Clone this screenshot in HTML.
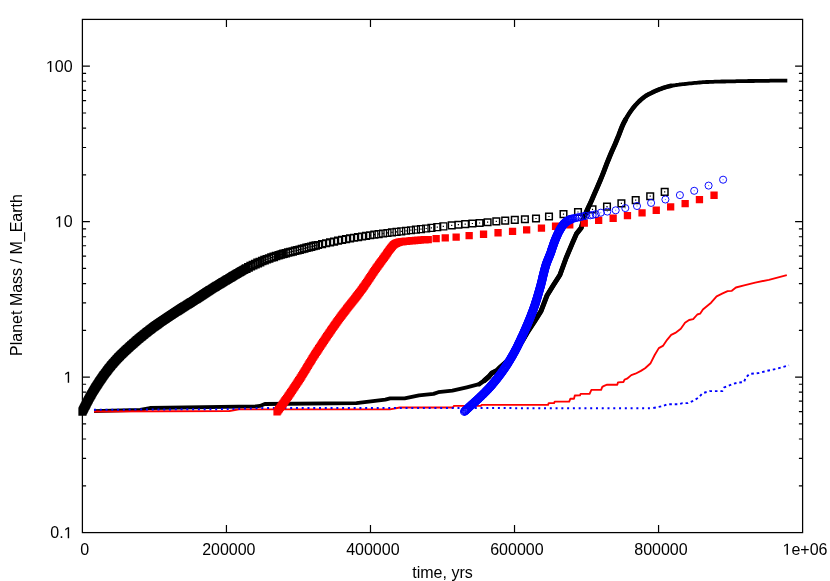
<!DOCTYPE html>
<html><head><meta charset="utf-8"><title>plot</title>
<style>
html,body{margin:0;padding:0;background:#fff;}
body{width:830px;height:581px;overflow:hidden;font-family:"Liberation Sans",sans-serif;}
svg{display:block;will-change:transform;}
</style></head><body>
<svg width="830" height="581" viewBox="0 0 830 581">
<rect width="830" height="581" fill="#fff"/>
<path d="M94.0 411.2L140.2 409.9L149.9 408.0L255.9 406.3L260.0 405.9L264.8 404.0L356.4 403.2L385.3 399.6L390.1 398.3L404.6 398.3L419.0 395.3L433.5 393.9L438.3 392.2L452.4 390.6L466.8 387.3L479.2 384.2L481.5 382.5L484.4 380.5L489.0 376.5L491.6 373.3L497.0 370.5L499.9 367.5L505.0 363.0L510.0 358.0L515.4 352.0L520.0 345.0L527.0 333.0L534.9 320.8L541.0 311.1L547.0 295.5L553.0 285.8L559.9 275.0L566.1 258.0L572.2 243.6L576.4 233.9L581.2 227.9L584.2 217.0L586.7 211.0L588.4 207.4L590.1 203.7L591.8 200.0L593.4 196.2L595.1 192.3L596.8 188.4L598.5 184.5L600.2 180.5L601.9 176.4L603.6 172.1L605.2 167.8L606.9 163.4L608.6 159.2L610.3 155.0L612.0 151.1L613.7 147.3L615.4 143.4L617.0 139.5L618.7 135.4L620.4 130.9L622.1 126.5L623.8 122.8L625.5 119.6L627.2 116.7L628.8 114.1L630.5 111.6L632.2 109.2L633.9 107.0L635.6 105.0L637.3 103.2L639.0 101.5L640.6 100.0L642.3 98.6L644.0 97.2L645.7 96.0L647.4 94.9L649.1 94.0L650.8 93.2L652.4 92.4L654.1 91.6L655.8 90.8L657.5 90.1L659.2 89.4L660.9 88.8L662.6 88.2L664.2 87.6L665.9 87.1L667.6 86.6L669.3 86.2L671.0 85.8L672.7 85.5L674.4 85.3L676.0 85.0L677.7 84.8L679.4 84.5L681.1 84.3L682.8 84.1L684.5 84.0L686.2 83.8L687.8 83.6L689.5 83.4L691.2 83.3L692.9 83.1L694.6 82.9L696.3 82.8L698.0 82.6L699.6 82.5L701.3 82.4L703.0 82.2L704.7 82.1L706.4 82.0L708.1 82.0L709.8 81.9L711.4 81.8L713.1 81.8L714.8 81.7L716.5 81.7L718.2 81.6L719.9 81.6L721.6 81.5L723.2 81.5L724.9 81.5L726.6 81.4L728.3 81.4L730.0 81.4L731.7 81.3L733.4 81.3L735.0 81.3L736.7 81.2L738.4 81.2L740.1 81.2L741.8 81.2L743.5 81.1L745.2 81.1L746.8 81.1L748.5 81.0L750.2 81.0L751.9 81.0L753.6 81.0L755.3 80.9L757.0 80.9L758.6 80.9L760.3 80.9L762.0 80.8L763.7 80.8L765.4 80.8L767.1 80.8L768.8 80.8L770.4 80.7L772.1 80.7L773.8 80.7L775.5 80.7L777.2 80.7L778.9 80.7L780.6 80.6L782.2 80.6L783.9 80.6L785.6 80.6L787.3 80.6" fill="none" stroke="#000" stroke-width="3.8" stroke-linejoin="round"/>
<path d="M484.4 380.5L489.0 376.5L491.6 373.3L497.0 370.5L499.9 367.5L505.0 363.0L510.0 358.0L515.4 352.0L520.0 345.0L527.0 333.0L534.9 320.8L541.0 311.1L547.0 295.5L553.0 285.8L559.9 275.0L566.1 258.0L572.2 243.6L576.4 233.9L581.2 227.9L584.2 217.0L586.7 211.0L588.4 207.4L590.1 203.7L591.8 200.0L593.4 196.2L595.1 192.3L596.8 188.4L598.5 184.5L600.2 180.5L601.9 176.4L603.6 172.1L605.2 167.8L606.9 163.4L608.6 159.2L610.3 155.0L612.0 151.1L613.7 147.3L615.4 143.4L617.0 139.5L618.7 135.4L620.4 130.9L622.1 126.5L623.8 122.8L625.5 119.6" fill="none" stroke="#000" stroke-width="5" stroke-linejoin="round" stroke-linecap="round"/>
<path d="M479.2 384.2L481.5 382.5L484.4 380.5L489.0 376.5L491.6 373.3L497.0 370.5L499.9 367.5L505.0 363.0L510.0 358.0L515.4 352.0L520.0 345.0L527.0 333.0L534.9 320.8L541.0 311.1L547.0 295.5L553.0 285.8L559.9 275.0L566.1 258.0L572.2 243.6L576.4 233.9L581.2 227.9L584.2 217.0L586.7 211.0L588.4 207.4L590.1 203.7L591.8 200.0L593.4 196.2L595.1 192.3L596.8 188.4L598.5 184.5L600.2 180.5L601.9 176.4L603.6 172.1L605.2 167.8L606.9 163.4L608.6 159.2L610.3 155.0L612.0 151.1L613.7 147.3L615.4 143.4L617.0 139.5L618.7 135.4L620.4 130.9L622.1 126.5L623.8 122.8L625.5 119.6L627.2 116.7L628.8 114.1L630.5 111.6L632.2 109.2L633.9 107.0L635.6 105.0L637.3 103.2L639.0 101.5L640.6 100.0L642.3 98.6L644.0 97.2L645.7 96.0L647.4 94.9L649.1 94.0L650.8 93.2L652.4 92.4L654.1 91.6L655.8 90.8L657.5 90.1L659.2 89.4L660.9 88.8L662.6 88.2L664.2 87.6L665.9 87.1L667.6 86.6L669.3 86.2L671.0 85.8" fill="none" stroke="#000" stroke-width="4.5" stroke-linejoin="round" stroke-linecap="round"/>
<path d="M94.0 411.5L229.4 411.0L239.0 409.3L390.0 409.3L399.8 407.5L453.0 407.5L454.0 405.8L481.0 405.8L481.5 404.9L548.1 404.9L548.7 403.1L554.1 403.1L554.7 401.6L569.2 401.6L570.4 398.7L574.0 398.7L574.8 395.5L580.0 395.3L580.6 393.9L589.6 393.9L591.4 389.9L601.1 389.9L602.3 386.9L604.1 385.9L607.1 384.7L617.3 384.7L618.0 382.3L623.4 382.0L624.6 379.6L627.0 378.7L631.3 375.1L635.4 373.7L640.9 370.9L645.1 368.2L650.6 363.2L654.7 355.0L658.8 348.1L662.9 345.9L667.1 339.8L671.2 334.9L675.3 332.9L680.8 328.8L685.0 322.8L689.1 320.0L693.2 319.2L697.3 314.5L700.1 313.7L702.9 309.5L711.1 302.7L716.6 296.3L722.1 293.6L727.6 291.1L731.8 290.8L735.9 287.5L744.1 285.3L755.2 282.6L768.9 279.8L786.8 275.1" fill="none" stroke="#f00" stroke-width="1.85" stroke-linejoin="round"/>
<path d="M94.0 409.8L224.6 409.1L270.0 407.9L592.8 408.2L651.8 408.3" fill="none" stroke="#00f" stroke-width="2" stroke-dasharray="2 3.77"/>
<path d="M651.8 408.3L662.7 406.1L667.2 404.3L678.9 404.3L682.5 403.1L688.0 403.1L692.5 401.1L698.8 397.5L702.4 393.3L709.6 391.1L722.3 391.1L724.1 387.5L733.1 383.9L738.6 382.5L744.0 382.1L745.8 377.6L749.4 374.0L758.4 373.1L767.5 370.7L776.5 368.9L789.0 365.3" fill="none" stroke="#00f" stroke-width="1.9" stroke-dasharray="2.6 2.9" stroke-dashoffset="-1.5"/>
<path d="M79.0 408.2h6.9v6.9h-6.9zM79.3 407.3h6.9v6.9h-6.9zM79.7 406.5h6.9v6.9h-6.9zM80.1 405.7h6.9v6.9h-6.9zM80.5 404.9h6.9v6.9h-6.9zM80.9 404.1h6.9v6.9h-6.9zM81.3 403.3h6.9v6.9h-6.9zM81.8 402.5h6.9v6.9h-6.9zM82.2 401.7h6.9v6.9h-6.9zM82.6 400.9h6.9v6.9h-6.9zM83.0 400.1h6.9v6.9h-6.9zM83.4 399.3h6.9v6.9h-6.9zM83.8 398.5h6.9v6.9h-6.9zM84.2 397.7h6.9v6.9h-6.9zM84.6 396.9h6.9v6.9h-6.9zM85.1 396.1h6.9v6.9h-6.9zM85.5 395.3h6.9v6.9h-6.9zM85.9 394.5h6.9v6.9h-6.9zM86.3 393.7h6.9v6.9h-6.9zM86.8 392.9h6.9v6.9h-6.9zM87.2 392.2h6.9v6.9h-6.9zM87.7 391.4h6.9v6.9h-6.9zM88.1 390.6h6.9v6.9h-6.9zM88.6 389.8h6.9v6.9h-6.9zM89.0 389.0h6.9v6.9h-6.9zM89.5 388.3h6.9v6.9h-6.9zM89.9 387.5h6.9v6.9h-6.9zM90.4 386.7h6.9v6.9h-6.9zM90.9 385.9h6.9v6.9h-6.9zM91.4 385.2h6.9v6.9h-6.9zM91.8 384.4h6.9v6.9h-6.9zM92.3 383.7h6.9v6.9h-6.9zM92.8 382.9h6.9v6.9h-6.9zM93.3 382.1h6.9v6.9h-6.9zM93.8 381.4h6.9v6.9h-6.9zM94.3 380.6h6.9v6.9h-6.9zM94.8 379.9h6.9v6.9h-6.9zM95.2 379.1h6.9v6.9h-6.9zM95.7 378.4h6.9v6.9h-6.9zM96.2 377.6h6.9v6.9h-6.9zM96.7 376.9h6.9v6.9h-6.9zM97.3 376.1h6.9v6.9h-6.9zM97.8 375.4h6.9v6.9h-6.9zM98.3 374.7h6.9v6.9h-6.9zM98.8 373.9h6.9v6.9h-6.9zM99.3 373.2h6.9v6.9h-6.9zM99.8 372.4h6.9v6.9h-6.9zM100.3 371.7h6.9v6.9h-6.9zM100.9 371.0h6.9v6.9h-6.9zM101.4 370.3h6.9v6.9h-6.9zM101.9 369.5h6.9v6.9h-6.9zM102.5 368.8h6.9v6.9h-6.9zM103.0 368.1h6.9v6.9h-6.9zM103.6 367.4h6.9v6.9h-6.9zM104.1 366.7h6.9v6.9h-6.9zM104.7 365.9h6.9v6.9h-6.9zM105.2 365.2h6.9v6.9h-6.9zM105.8 364.5h6.9v6.9h-6.9zM106.3 363.8h6.9v6.9h-6.9zM106.9 363.1h6.9v6.9h-6.9zM107.5 362.4h6.9v6.9h-6.9zM108.0 361.7h6.9v6.9h-6.9zM108.6 361.0h6.9v6.9h-6.9zM109.2 360.4h6.9v6.9h-6.9zM109.8 359.7h6.9v6.9h-6.9zM110.4 359.0h6.9v6.9h-6.9zM111.0 358.3h6.9v6.9h-6.9zM111.6 357.7h6.9v6.9h-6.9zM112.2 357.0h6.9v6.9h-6.9zM112.8 356.3h6.9v6.9h-6.9zM113.4 355.7h6.9v6.9h-6.9zM114.0 355.0h6.9v6.9h-6.9zM114.6 354.4h6.9v6.9h-6.9zM115.2 353.7h6.9v6.9h-6.9zM115.9 353.1h6.9v6.9h-6.9zM116.5 352.4h6.9v6.9h-6.9zM117.1 351.8h6.9v6.9h-6.9zM117.8 351.1h6.9v6.9h-6.9zM118.4 350.5h6.9v6.9h-6.9zM119.1 349.9h6.9v6.9h-6.9zM119.7 349.3h6.9v6.9h-6.9zM120.4 348.6h6.9v6.9h-6.9zM121.0 348.0h6.9v6.9h-6.9zM121.7 347.4h6.9v6.9h-6.9zM122.3 346.8h6.9v6.9h-6.9zM123.0 346.2h6.9v6.9h-6.9zM123.6 345.6h6.9v6.9h-6.9zM124.3 345.0h6.9v6.9h-6.9zM125.0 344.4h6.9v6.9h-6.9zM125.6 343.8h6.9v6.9h-6.9zM126.3 343.1h6.9v6.9h-6.9zM127.0 342.5h6.9v6.9h-6.9zM127.6 341.9h6.9v6.9h-6.9zM128.3 341.4h6.9v6.9h-6.9zM129.0 340.8h6.9v6.9h-6.9zM129.7 340.2h6.9v6.9h-6.9zM130.3 339.6h6.9v6.9h-6.9zM131.0 339.0h6.9v6.9h-6.9zM131.7 338.4h6.9v6.9h-6.9zM132.4 337.8h6.9v6.9h-6.9zM133.0 337.2h6.9v6.9h-6.9zM133.7 336.6h6.9v6.9h-6.9zM134.4 336.0h6.9v6.9h-6.9zM135.1 335.4h6.9v6.9h-6.9zM135.8 334.9h6.9v6.9h-6.9zM136.5 334.3h6.9v6.9h-6.9zM137.2 333.7h6.9v6.9h-6.9zM137.9 333.1h6.9v6.9h-6.9zM138.6 332.6h6.9v6.9h-6.9zM139.3 332.0h6.9v6.9h-6.9zM140.0 331.4h6.9v6.9h-6.9zM140.7 330.9h6.9v6.9h-6.9zM141.4 330.3h6.9v6.9h-6.9zM142.1 329.8h6.9v6.9h-6.9zM142.8 329.2h6.9v6.9h-6.9zM143.5 328.6h6.9v6.9h-6.9zM144.2 328.1h6.9v6.9h-6.9zM144.9 327.5h6.9v6.9h-6.9zM145.6 327.0h6.9v6.9h-6.9zM146.3 326.4h6.9v6.9h-6.9zM147.1 325.9h6.9v6.9h-6.9zM147.8 325.4h6.9v6.9h-6.9zM148.5 324.8h6.9v6.9h-6.9zM149.2 324.3h6.9v6.9h-6.9zM149.9 323.7h6.9v6.9h-6.9zM150.7 323.2h6.9v6.9h-6.9zM151.4 322.7h6.9v6.9h-6.9zM152.1 322.1h6.9v6.9h-6.9zM152.8 321.6h6.9v6.9h-6.9zM153.6 321.1h6.9v6.9h-6.9zM154.3 320.6h6.9v6.9h-6.9zM155.0 320.1h6.9v6.9h-6.9zM155.8 319.5h6.9v6.9h-6.9zM156.5 319.0h6.9v6.9h-6.9zM157.2 318.5h6.9v6.9h-6.9zM158.0 318.0h6.9v6.9h-6.9zM158.7 317.5h6.9v6.9h-6.9zM159.5 317.0h6.9v6.9h-6.9zM160.2 316.5h6.9v6.9h-6.9zM161.0 316.0h6.9v6.9h-6.9zM161.7 315.5h6.9v6.9h-6.9zM162.5 315.0h6.9v6.9h-6.9zM163.2 314.5h6.9v6.9h-6.9zM163.9 314.0h6.9v6.9h-6.9zM164.7 313.5h6.9v6.9h-6.9zM165.4 313.0h6.9v6.9h-6.9zM166.2 312.5h6.9v6.9h-6.9zM166.9 312.0h6.9v6.9h-6.9zM167.7 311.5h6.9v6.9h-6.9zM168.5 311.0h6.9v6.9h-6.9zM169.2 310.5h6.9v6.9h-6.9zM170.0 310.0h6.9v6.9h-6.9zM170.7 309.5h6.9v6.9h-6.9zM171.5 309.0h6.9v6.9h-6.9zM172.2 308.5h6.9v6.9h-6.9zM173.0 308.0h6.9v6.9h-6.9zM173.7 307.6h6.9v6.9h-6.9zM174.5 307.1h6.9v6.9h-6.9zM175.3 306.6h6.9v6.9h-6.9zM176.0 306.1h6.9v6.9h-6.9zM176.8 305.6h6.9v6.9h-6.9zM177.5 305.2h6.9v6.9h-6.9zM178.3 304.7h6.9v6.9h-6.9zM179.1 304.2h6.9v6.9h-6.9zM179.8 303.7h6.9v6.9h-6.9zM180.6 303.2h6.9v6.9h-6.9zM181.4 302.8h6.9v6.9h-6.9zM182.1 302.3h6.9v6.9h-6.9zM182.9 301.8h6.9v6.9h-6.9zM183.6 301.3h6.9v6.9h-6.9zM184.4 300.9h6.9v6.9h-6.9zM185.2 300.4h6.9v6.9h-6.9zM185.9 299.9h6.9v6.9h-6.9zM186.7 299.4h6.9v6.9h-6.9zM187.5 298.9h6.9v6.9h-6.9zM188.2 298.5h6.9v6.9h-6.9zM189.0 298.0h6.9v6.9h-6.9zM189.7 297.5h6.9v6.9h-6.9zM190.5 297.0h6.9v6.9h-6.9zM191.3 296.5h6.9v6.9h-6.9zM192.0 296.0h6.9v6.9h-6.9zM192.8 295.6h6.9v6.9h-6.9zM193.5 295.1h6.9v6.9h-6.9zM194.3 294.6h6.9v6.9h-6.9zM195.0 294.1h6.9v6.9h-6.9zM195.8 293.6h6.9v6.9h-6.9zM196.5 293.1h6.9v6.9h-6.9zM197.3 292.6h6.9v6.9h-6.9zM198.1 292.1h6.9v6.9h-6.9zM198.8 291.6h6.9v6.9h-6.9zM199.6 291.1h6.9v6.9h-6.9zM200.3 290.7h6.9v6.9h-6.9zM201.1 290.2h6.9v6.9h-6.9zM201.8 289.7h6.9v6.9h-6.9zM202.6 289.2h6.9v6.9h-6.9zM203.3 288.7h6.9v6.9h-6.9zM204.1 288.2h6.9v6.9h-6.9zM204.9 287.7h6.9v6.9h-6.9zM205.6 287.2h6.9v6.9h-6.9zM206.4 286.7h6.9v6.9h-6.9zM207.1 286.3h6.9v6.9h-6.9zM207.9 285.8h6.9v6.9h-6.9zM208.6 285.3h6.9v6.9h-6.9zM209.4 284.8h6.9v6.9h-6.9zM210.2 284.3h6.9v6.9h-6.9zM210.9 283.9h6.9v6.9h-6.9zM211.7 283.4h6.9v6.9h-6.9zM212.5 282.9h6.9v6.9h-6.9zM213.2 282.4h6.9v6.9h-6.9zM214.0 282.0h6.9v6.9h-6.9zM214.8 281.5h6.9v6.9h-6.9zM215.5 281.0h6.9v6.9h-6.9zM216.3 280.6h6.9v6.9h-6.9zM217.1 280.1h6.9v6.9h-6.9zM217.8 279.6h6.9v6.9h-6.9zM218.6 279.2h6.9v6.9h-6.9zM219.4 278.7h6.9v6.9h-6.9zM220.2 278.3h6.9v6.9h-6.9zM220.9 277.8h6.9v6.9h-6.9zM221.7 277.3h6.9v6.9h-6.9zM222.5 276.9h6.9v6.9h-6.9zM223.2 276.4h6.9v6.9h-6.9zM224.0 275.9h6.9v6.9h-6.9zM224.8 275.5h6.9v6.9h-6.9zM225.6 275.0h6.9v6.9h-6.9zM226.3 274.5h6.9v6.9h-6.9zM227.1 274.1h6.9v6.9h-6.9zM227.9 273.6h6.9v6.9h-6.9zM228.6 273.1h6.9v6.9h-6.9zM229.4 272.7h6.9v6.9h-6.9zM230.2 272.2h6.9v6.9h-6.9zM231.0 271.8h6.9v6.9h-6.9zM231.7 271.3h6.9v6.9h-6.9zM232.5 270.9h6.9v6.9h-6.9zM233.3 270.4h6.9v6.9h-6.9zM234.1 269.9h6.9v6.9h-6.9zM234.8 269.5h6.9v6.9h-6.9zM235.6 269.0h6.9v6.9h-6.9zM236.4 268.6h6.9v6.9h-6.9zM237.2 268.2h6.9v6.9h-6.9zM238.0 267.7h6.9v6.9h-6.9zM238.7 267.3h6.9v6.9h-6.9zM239.5 266.8h6.9v6.9h-6.9zM240.3 266.4h6.9v6.9h-6.9zM241.1 266.0h6.9v6.9h-6.9zM241.9 265.5h6.9v6.9h-6.9zM274.9 251.9h6.9v6.9h-6.9zM275.8 251.6h6.9v6.9h-6.9zM276.6 251.3h6.9v6.9h-6.9zM277.5 251.1h6.9v6.9h-6.9zM278.3 250.8h6.9v6.9h-6.9zM279.2 250.6h6.9v6.9h-6.9zM314.6 241.5h6.9v6.9h-6.9zM318.6 240.6h6.9v6.9h-6.9zM322.6 239.8h6.9v6.9h-6.9zM326.6 238.9h6.9v6.9h-6.9zM330.6 238.1h6.9v6.9h-6.9zM334.6 237.2h6.9v6.9h-6.9zM338.6 236.4h6.9v6.9h-6.9zM342.6 235.6h6.9v6.9h-6.9zM346.6 234.9h6.9v6.9h-6.9zM350.6 234.3h6.9v6.9h-6.9zM354.6 233.6h6.9v6.9h-6.9zM358.6 233.0h6.9v6.9h-6.9zM362.6 232.4h6.9v6.9h-6.9zM366.7 231.8h6.9v6.9h-6.9zM370.9 231.2h6.9v6.9h-6.9zM375.2 230.6h6.9v6.9h-6.9zM379.6 230.0h6.9v6.9h-6.9zM384.0 229.5h6.9v6.9h-6.9zM388.5 228.9h6.9v6.9h-6.9zM393.1 228.4h6.9v6.9h-6.9zM397.8 227.9h6.9v6.9h-6.9zM402.6 227.3h6.9v6.9h-6.9zM407.5 226.8h6.9v6.9h-6.9zM412.5 226.2h6.9v6.9h-6.9zM417.5 225.6h6.9v6.9h-6.9zM422.7 225.0h6.9v6.9h-6.9zM428.0 224.4h6.9v6.9h-6.9zM433.8 223.7h6.9v6.9h-6.9zM439.9 222.9h6.9v6.9h-6.9z" fill="none" stroke="#000" stroke-width="1.25"/>
<path d="M280.1 250.3h6.9v6.9h-6.9zM282.4 249.7h6.9v6.9h-6.9zM284.7 249.1h6.9v6.9h-6.9zM287.0 248.5h6.9v6.9h-6.9zM289.3 248.0h6.9v6.9h-6.9zM291.6 247.4h6.9v6.9h-6.9zM293.9 246.8h6.9v6.9h-6.9zM296.2 246.2h6.9v6.9h-6.9zM298.5 245.6h6.9v6.9h-6.9zM300.8 245.0h6.9v6.9h-6.9zM303.1 244.4h6.9v6.9h-6.9zM305.4 243.8h6.9v6.9h-6.9zM307.7 243.2h6.9v6.9h-6.9zM310.0 242.6h6.9v6.9h-6.9zM312.3 242.1h6.9v6.9h-6.9z" fill="none" stroke="#000" stroke-width="1.6"/>
<path d="M258.8 257.6h6.9v6.9h-6.9zM261.1 256.7h6.9v6.9h-6.9zM263.4 255.8h6.9v6.9h-6.9zM265.7 255.0h6.9v6.9h-6.9zM268.0 254.1h6.9v6.9h-6.9zM270.3 253.4h6.9v6.9h-6.9zM272.6 252.6h6.9v6.9h-6.9z" fill="none" stroke="#000" stroke-width="1.7"/>
<path d="M242.7 265.1h6.9v6.9h-6.9zM245.0 263.9h6.9v6.9h-6.9zM247.3 262.7h6.9v6.9h-6.9zM249.6 261.6h6.9v6.9h-6.9zM251.9 260.6h6.9v6.9h-6.9zM254.2 259.5h6.9v6.9h-6.9zM256.5 258.6h6.9v6.9h-6.9z" fill="none" stroke="#000" stroke-width="1.95"/>
<path d="M448.4 222.1h6.6v6.6h-6.6zM455.1 221.4h6.6v6.6h-6.6zM461.9 220.8h6.6v6.6h-6.6zM469.1 220.2h6.6v6.6h-6.6zM476.3 219.7h6.6v6.6h-6.6zM484.3 218.9h6.6v6.6h-6.6zM493.0 218.1h6.6v6.6h-6.6zM501.9 217.3h6.6v6.6h-6.6zM511.5 216.6h6.6v6.6h-6.6zM521.6 216.0h6.6v6.6h-6.6zM532.7 215.2h6.6v6.6h-6.6zM545.7 213.2h6.6v6.6h-6.6zM560.2 210.8h6.6v6.6h-6.6zM574.7 208.7h6.6v6.6h-6.6zM589.2 206.1h6.6v6.6h-6.6zM603.7 203.3h6.6v6.6h-6.6zM618.1 200.1h6.6v6.6h-6.6zM632.4 196.8h6.6v6.6h-6.6zM646.9 192.9h6.6v6.6h-6.6zM661.4 188.6h6.6v6.6h-6.6z" fill="none" stroke="#000" stroke-width="1.5"/>
<path d="M81.8 411.0h1.2v1.2h-1.2zM82.2 410.2h1.2v1.2h-1.2zM82.6 409.4h1.2v1.2h-1.2zM83.0 408.6h1.2v1.2h-1.2zM83.4 407.8h1.2v1.2h-1.2zM83.8 407.0h1.2v1.2h-1.2zM84.2 406.2h1.2v1.2h-1.2zM84.6 405.4h1.2v1.2h-1.2zM85.0 404.6h1.2v1.2h-1.2zM85.4 403.7h1.2v1.2h-1.2zM85.8 402.9h1.2v1.2h-1.2zM86.2 402.1h1.2v1.2h-1.2zM86.7 401.3h1.2v1.2h-1.2zM87.1 400.5h1.2v1.2h-1.2zM87.5 399.8h1.2v1.2h-1.2zM87.9 399.0h1.2v1.2h-1.2zM88.3 398.2h1.2v1.2h-1.2zM88.8 397.4h1.2v1.2h-1.2zM89.2 396.6h1.2v1.2h-1.2zM89.6 395.8h1.2v1.2h-1.2zM90.1 395.0h1.2v1.2h-1.2zM90.5 394.2h1.2v1.2h-1.2zM91.0 393.4h1.2v1.2h-1.2zM91.4 392.7h1.2v1.2h-1.2zM91.9 391.9h1.2v1.2h-1.2zM92.3 391.1h1.2v1.2h-1.2zM92.8 390.3h1.2v1.2h-1.2zM93.3 389.6h1.2v1.2h-1.2zM93.7 388.8h1.2v1.2h-1.2zM94.2 388.0h1.2v1.2h-1.2zM94.7 387.3h1.2v1.2h-1.2zM95.2 386.5h1.2v1.2h-1.2zM95.6 385.8h1.2v1.2h-1.2zM96.1 385.0h1.2v1.2h-1.2zM96.6 384.2h1.2v1.2h-1.2zM97.1 383.5h1.2v1.2h-1.2zM97.6 382.7h1.2v1.2h-1.2zM98.1 382.0h1.2v1.2h-1.2zM98.6 381.2h1.2v1.2h-1.2zM99.1 380.5h1.2v1.2h-1.2zM99.6 379.7h1.2v1.2h-1.2zM100.1 379.0h1.2v1.2h-1.2zM100.6 378.2h1.2v1.2h-1.2zM101.1 377.5h1.2v1.2h-1.2zM101.6 376.8h1.2v1.2h-1.2zM102.2 376.0h1.2v1.2h-1.2zM102.7 375.3h1.2v1.2h-1.2zM103.2 374.6h1.2v1.2h-1.2zM103.7 373.8h1.2v1.2h-1.2zM104.3 373.1h1.2v1.2h-1.2zM104.8 372.4h1.2v1.2h-1.2zM105.3 371.7h1.2v1.2h-1.2zM105.9 370.9h1.2v1.2h-1.2zM106.4 370.2h1.2v1.2h-1.2zM107.0 369.5h1.2v1.2h-1.2zM107.5 368.8h1.2v1.2h-1.2zM108.1 368.1h1.2v1.2h-1.2zM108.6 367.4h1.2v1.2h-1.2zM109.2 366.7h1.2v1.2h-1.2zM109.7 366.0h1.2v1.2h-1.2zM110.3 365.3h1.2v1.2h-1.2zM110.9 364.6h1.2v1.2h-1.2zM111.5 363.9h1.2v1.2h-1.2zM112.0 363.2h1.2v1.2h-1.2zM112.6 362.5h1.2v1.2h-1.2zM113.2 361.9h1.2v1.2h-1.2zM113.8 361.2h1.2v1.2h-1.2zM114.4 360.5h1.2v1.2h-1.2zM115.0 359.8h1.2v1.2h-1.2zM115.6 359.2h1.2v1.2h-1.2zM116.2 358.5h1.2v1.2h-1.2zM116.8 357.9h1.2v1.2h-1.2zM117.5 357.2h1.2v1.2h-1.2zM118.1 356.6h1.2v1.2h-1.2zM118.7 355.9h1.2v1.2h-1.2zM119.3 355.3h1.2v1.2h-1.2zM120.0 354.6h1.2v1.2h-1.2zM120.6 354.0h1.2v1.2h-1.2zM121.3 353.4h1.2v1.2h-1.2zM121.9 352.7h1.2v1.2h-1.2zM122.6 352.1h1.2v1.2h-1.2zM123.2 351.5h1.2v1.2h-1.2zM123.9 350.9h1.2v1.2h-1.2zM124.5 350.3h1.2v1.2h-1.2zM125.2 349.6h1.2v1.2h-1.2zM125.8 349.0h1.2v1.2h-1.2zM126.5 348.4h1.2v1.2h-1.2zM127.1 347.8h1.2v1.2h-1.2zM127.8 347.2h1.2v1.2h-1.2zM128.5 346.6h1.2v1.2h-1.2zM129.2 346.0h1.2v1.2h-1.2zM129.8 345.4h1.2v1.2h-1.2zM130.5 344.8h1.2v1.2h-1.2zM131.2 344.2h1.2v1.2h-1.2zM131.8 343.6h1.2v1.2h-1.2zM132.5 343.0h1.2v1.2h-1.2zM133.2 342.4h1.2v1.2h-1.2zM133.9 341.8h1.2v1.2h-1.2zM134.5 341.2h1.2v1.2h-1.2zM135.2 340.6h1.2v1.2h-1.2zM135.9 340.0h1.2v1.2h-1.2zM136.6 339.5h1.2v1.2h-1.2zM137.3 338.9h1.2v1.2h-1.2zM138.0 338.3h1.2v1.2h-1.2zM138.6 337.7h1.2v1.2h-1.2zM139.3 337.1h1.2v1.2h-1.2zM140.0 336.6h1.2v1.2h-1.2zM140.7 336.0h1.2v1.2h-1.2zM141.4 335.4h1.2v1.2h-1.2zM142.1 334.9h1.2v1.2h-1.2zM142.8 334.3h1.2v1.2h-1.2zM143.5 333.7h1.2v1.2h-1.2zM144.2 333.2h1.2v1.2h-1.2zM144.9 332.6h1.2v1.2h-1.2zM145.6 332.1h1.2v1.2h-1.2zM146.3 331.5h1.2v1.2h-1.2zM147.0 330.9h1.2v1.2h-1.2zM147.8 330.4h1.2v1.2h-1.2zM148.5 329.8h1.2v1.2h-1.2zM149.2 329.3h1.2v1.2h-1.2zM149.9 328.8h1.2v1.2h-1.2zM150.6 328.2h1.2v1.2h-1.2zM151.3 327.7h1.2v1.2h-1.2zM152.1 327.1h1.2v1.2h-1.2zM152.8 326.6h1.2v1.2h-1.2zM153.5 326.1h1.2v1.2h-1.2zM154.2 325.5h1.2v1.2h-1.2zM155.0 325.0h1.2v1.2h-1.2zM155.7 324.5h1.2v1.2h-1.2zM156.4 323.9h1.2v1.2h-1.2zM157.2 323.4h1.2v1.2h-1.2zM157.9 322.9h1.2v1.2h-1.2zM158.6 322.4h1.2v1.2h-1.2zM159.4 321.9h1.2v1.2h-1.2zM160.1 321.4h1.2v1.2h-1.2zM160.8 320.8h1.2v1.2h-1.2zM161.6 320.3h1.2v1.2h-1.2zM162.3 319.8h1.2v1.2h-1.2zM163.1 319.3h1.2v1.2h-1.2zM163.8 318.8h1.2v1.2h-1.2zM164.6 318.3h1.2v1.2h-1.2zM165.3 317.8h1.2v1.2h-1.2zM166.1 317.3h1.2v1.2h-1.2zM166.8 316.8h1.2v1.2h-1.2zM167.5 316.3h1.2v1.2h-1.2zM168.3 315.8h1.2v1.2h-1.2zM169.0 315.3h1.2v1.2h-1.2zM169.8 314.8h1.2v1.2h-1.2zM170.5 314.3h1.2v1.2h-1.2zM171.3 313.8h1.2v1.2h-1.2zM172.1 313.3h1.2v1.2h-1.2zM172.8 312.8h1.2v1.2h-1.2zM173.6 312.3h1.2v1.2h-1.2zM174.3 311.9h1.2v1.2h-1.2zM175.1 311.4h1.2v1.2h-1.2zM175.8 310.9h1.2v1.2h-1.2zM176.6 310.4h1.2v1.2h-1.2zM177.3 309.9h1.2v1.2h-1.2zM178.1 309.4h1.2v1.2h-1.2zM178.9 309.0h1.2v1.2h-1.2zM179.6 308.5h1.2v1.2h-1.2zM180.4 308.0h1.2v1.2h-1.2zM181.2 307.5h1.2v1.2h-1.2zM181.9 307.0h1.2v1.2h-1.2zM182.7 306.6h1.2v1.2h-1.2zM183.4 306.1h1.2v1.2h-1.2zM184.2 305.6h1.2v1.2h-1.2zM185.0 305.1h1.2v1.2h-1.2zM185.7 304.7h1.2v1.2h-1.2zM186.5 304.2h1.2v1.2h-1.2zM187.3 303.7h1.2v1.2h-1.2zM188.0 303.2h1.2v1.2h-1.2zM188.8 302.8h1.2v1.2h-1.2zM189.5 302.3h1.2v1.2h-1.2zM190.3 301.8h1.2v1.2h-1.2zM191.1 301.3h1.2v1.2h-1.2zM191.8 300.8h1.2v1.2h-1.2zM192.6 300.4h1.2v1.2h-1.2zM193.3 299.9h1.2v1.2h-1.2zM194.1 299.4h1.2v1.2h-1.2zM194.9 298.9h1.2v1.2h-1.2zM195.6 298.4h1.2v1.2h-1.2zM196.4 297.9h1.2v1.2h-1.2zM197.1 297.4h1.2v1.2h-1.2zM197.9 296.9h1.2v1.2h-1.2zM198.6 296.4h1.2v1.2h-1.2zM199.4 296.0h1.2v1.2h-1.2zM200.2 295.5h1.2v1.2h-1.2zM200.9 295.0h1.2v1.2h-1.2zM201.7 294.5h1.2v1.2h-1.2zM202.4 294.0h1.2v1.2h-1.2zM203.2 293.5h1.2v1.2h-1.2zM203.9 293.0h1.2v1.2h-1.2zM204.7 292.5h1.2v1.2h-1.2zM205.4 292.0h1.2v1.2h-1.2zM206.2 291.5h1.2v1.2h-1.2zM206.9 291.1h1.2v1.2h-1.2zM207.7 290.6h1.2v1.2h-1.2zM208.5 290.1h1.2v1.2h-1.2zM209.2 289.6h1.2v1.2h-1.2zM210.0 289.1h1.2v1.2h-1.2zM210.7 288.6h1.2v1.2h-1.2zM211.5 288.1h1.2v1.2h-1.2zM212.3 287.7h1.2v1.2h-1.2zM213.0 287.2h1.2v1.2h-1.2zM213.8 286.7h1.2v1.2h-1.2zM214.5 286.2h1.2v1.2h-1.2zM215.3 285.8h1.2v1.2h-1.2zM216.1 285.3h1.2v1.2h-1.2zM216.8 284.8h1.2v1.2h-1.2zM217.6 284.3h1.2v1.2h-1.2zM218.4 283.9h1.2v1.2h-1.2zM219.1 283.4h1.2v1.2h-1.2zM219.9 283.0h1.2v1.2h-1.2zM220.7 282.5h1.2v1.2h-1.2zM221.5 282.0h1.2v1.2h-1.2zM222.2 281.6h1.2v1.2h-1.2zM223.0 281.1h1.2v1.2h-1.2zM223.8 280.6h1.2v1.2h-1.2zM224.5 280.2h1.2v1.2h-1.2zM225.3 279.7h1.2v1.2h-1.2zM226.1 279.2h1.2v1.2h-1.2zM226.9 278.8h1.2v1.2h-1.2zM227.6 278.3h1.2v1.2h-1.2zM228.4 277.9h1.2v1.2h-1.2zM229.2 277.4h1.2v1.2h-1.2zM229.9 276.9h1.2v1.2h-1.2zM230.7 276.5h1.2v1.2h-1.2zM231.5 276.0h1.2v1.2h-1.2zM232.3 275.5h1.2v1.2h-1.2zM233.0 275.1h1.2v1.2h-1.2zM233.8 274.6h1.2v1.2h-1.2zM234.6 274.2h1.2v1.2h-1.2zM235.4 273.7h1.2v1.2h-1.2zM236.1 273.2h1.2v1.2h-1.2zM236.9 272.8h1.2v1.2h-1.2zM237.7 272.3h1.2v1.2h-1.2zM238.5 271.9h1.2v1.2h-1.2zM239.3 271.4h1.2v1.2h-1.2zM240.0 271.0h1.2v1.2h-1.2zM240.8 270.6h1.2v1.2h-1.2zM241.6 270.1h1.2v1.2h-1.2zM242.4 269.7h1.2v1.2h-1.2zM243.2 269.2h1.2v1.2h-1.2zM244.0 268.8h1.2v1.2h-1.2zM244.8 268.4h1.2v1.2h-1.2zM245.5 268.0h1.2v1.2h-1.2zM247.8 266.8h1.2v1.2h-1.2zM250.1 265.6h1.2v1.2h-1.2zM252.4 264.5h1.2v1.2h-1.2zM254.7 263.4h1.2v1.2h-1.2zM257.0 262.4h1.2v1.2h-1.2zM259.3 261.4h1.2v1.2h-1.2zM261.6 260.5h1.2v1.2h-1.2zM263.9 259.6h1.2v1.2h-1.2zM266.2 258.7h1.2v1.2h-1.2zM268.5 257.8h1.2v1.2h-1.2zM270.8 257.0h1.2v1.2h-1.2zM273.1 256.2h1.2v1.2h-1.2zM275.4 255.4h1.2v1.2h-1.2zM277.7 254.7h1.2v1.2h-1.2zM278.6 254.4h1.2v1.2h-1.2zM279.5 254.2h1.2v1.2h-1.2zM280.3 253.9h1.2v1.2h-1.2zM281.2 253.7h1.2v1.2h-1.2zM282.1 253.4h1.2v1.2h-1.2zM282.9 253.2h1.2v1.2h-1.2zM285.2 252.6h1.2v1.2h-1.2zM287.5 252.0h1.2v1.2h-1.2zM289.8 251.4h1.2v1.2h-1.2zM292.1 250.8h1.2v1.2h-1.2zM294.4 250.3h1.2v1.2h-1.2zM296.7 249.7h1.2v1.2h-1.2zM299.0 249.1h1.2v1.2h-1.2zM301.3 248.5h1.2v1.2h-1.2zM303.6 247.9h1.2v1.2h-1.2zM305.9 247.2h1.2v1.2h-1.2zM308.2 246.6h1.2v1.2h-1.2zM310.5 246.0h1.2v1.2h-1.2zM312.8 245.5h1.2v1.2h-1.2zM315.1 244.9h1.2v1.2h-1.2zM317.4 244.4h1.2v1.2h-1.2zM321.4 243.5h1.2v1.2h-1.2zM325.4 242.6h1.2v1.2h-1.2zM329.4 241.8h1.2v1.2h-1.2zM333.4 240.9h1.2v1.2h-1.2zM337.4 240.1h1.2v1.2h-1.2zM341.4 239.3h1.2v1.2h-1.2zM345.4 238.5h1.2v1.2h-1.2zM349.4 237.8h1.2v1.2h-1.2zM353.4 237.1h1.2v1.2h-1.2zM357.4 236.5h1.2v1.2h-1.2zM361.4 235.9h1.2v1.2h-1.2zM365.5 235.3h1.2v1.2h-1.2zM369.6 234.7h1.2v1.2h-1.2zM373.8 234.0h1.2v1.2h-1.2zM378.0 233.4h1.2v1.2h-1.2zM382.4 232.9h1.2v1.2h-1.2zM386.8 232.3h1.2v1.2h-1.2zM391.4 231.8h1.2v1.2h-1.2zM396.0 231.3h1.2v1.2h-1.2zM400.7 230.8h1.2v1.2h-1.2zM405.5 230.2h1.2v1.2h-1.2zM410.3 229.6h1.2v1.2h-1.2zM415.3 229.1h1.2v1.2h-1.2zM420.4 228.5h1.2v1.2h-1.2zM425.6 227.9h1.2v1.2h-1.2zM430.8 227.2h1.2v1.2h-1.2zM436.7 226.5h1.2v1.2h-1.2zM442.7 225.8h1.2v1.2h-1.2zM451.1 224.8h1.2v1.2h-1.2zM457.8 224.1h1.2v1.2h-1.2zM464.6 223.5h1.2v1.2h-1.2zM471.8 222.9h1.2v1.2h-1.2zM479.0 222.4h1.2v1.2h-1.2zM487.0 221.6h1.2v1.2h-1.2zM495.7 220.8h1.2v1.2h-1.2zM504.6 220.0h1.2v1.2h-1.2zM514.2 219.3h1.2v1.2h-1.2zM524.3 218.7h1.2v1.2h-1.2zM535.4 217.9h1.2v1.2h-1.2zM548.4 215.9h1.2v1.2h-1.2zM562.9 213.5h1.2v1.2h-1.2zM577.4 211.4h1.2v1.2h-1.2zM591.9 208.8h1.2v1.2h-1.2zM606.4 206.0h1.2v1.2h-1.2zM620.8 202.8h1.2v1.2h-1.2zM635.1 199.5h1.2v1.2h-1.2zM649.6 195.6h1.2v1.2h-1.2zM664.1 191.3h1.2v1.2h-1.2z" fill="#000"/>
<path d="M273.4 408.2h7.3v7.3h-7.3zM274.2 407.1h7.3v7.3h-7.3zM275.0 406.0h7.3v7.3h-7.3zM275.8 404.9h7.3v7.3h-7.3zM276.6 403.8h7.3v7.3h-7.3zM277.4 402.7h7.3v7.3h-7.3zM278.2 401.6h7.3v7.3h-7.3zM279.0 400.5h7.3v7.3h-7.3zM279.8 399.4h7.3v7.3h-7.3zM280.6 398.3h7.3v7.3h-7.3zM281.4 397.1h7.3v7.3h-7.3zM282.2 396.0h7.3v7.3h-7.3zM283.0 394.9h7.3v7.3h-7.3zM283.8 393.7h7.3v7.3h-7.3zM284.6 392.6h7.3v7.3h-7.3zM285.4 391.4h7.3v7.3h-7.3zM286.2 390.2h7.3v7.3h-7.3zM287.0 389.1h7.3v7.3h-7.3zM287.8 387.9h7.3v7.3h-7.3zM288.6 386.7h7.3v7.3h-7.3zM289.4 385.5h7.3v7.3h-7.3zM290.2 384.3h7.3v7.3h-7.3zM291.0 383.2h7.3v7.3h-7.3zM291.8 382.0h7.3v7.3h-7.3zM292.6 380.7h7.3v7.3h-7.3zM293.4 379.5h7.3v7.3h-7.3zM294.2 378.3h7.3v7.3h-7.3zM295.0 377.1h7.3v7.3h-7.3zM295.8 375.9h7.3v7.3h-7.3zM296.6 374.6h7.3v7.3h-7.3zM297.4 373.4h7.3v7.3h-7.3zM298.2 372.1h7.3v7.3h-7.3zM299.0 370.8h7.3v7.3h-7.3zM299.8 369.5h7.3v7.3h-7.3zM300.6 368.2h7.3v7.3h-7.3zM301.4 366.9h7.3v7.3h-7.3zM302.2 365.6h7.3v7.3h-7.3zM303.0 364.3h7.3v7.3h-7.3zM303.8 362.9h7.3v7.3h-7.3zM304.6 361.6h7.3v7.3h-7.3zM305.4 360.3h7.3v7.3h-7.3zM306.2 359.0h7.3v7.3h-7.3zM307.0 357.7h7.3v7.3h-7.3zM307.8 356.4h7.3v7.3h-7.3zM308.6 355.1h7.3v7.3h-7.3zM309.4 353.8h7.3v7.3h-7.3zM310.2 352.5h7.3v7.3h-7.3zM311.0 351.3h7.3v7.3h-7.3zM311.8 350.1h7.3v7.3h-7.3zM312.6 348.8h7.3v7.3h-7.3zM313.4 347.6h7.3v7.3h-7.3zM314.2 346.4h7.3v7.3h-7.3zM315.0 345.1h7.3v7.3h-7.3zM315.8 343.9h7.3v7.3h-7.3zM316.6 342.7h7.3v7.3h-7.3zM317.4 341.5h7.3v7.3h-7.3zM318.2 340.3h7.3v7.3h-7.3zM319.0 339.1h7.3v7.3h-7.3zM319.8 337.9h7.3v7.3h-7.3zM320.6 336.7h7.3v7.3h-7.3zM321.4 335.5h7.3v7.3h-7.3zM322.2 334.3h7.3v7.3h-7.3zM323.0 333.1h7.3v7.3h-7.3zM323.8 331.9h7.3v7.3h-7.3zM324.6 330.7h7.3v7.3h-7.3zM325.4 329.6h7.3v7.3h-7.3zM326.2 328.4h7.3v7.3h-7.3zM327.0 327.2h7.3v7.3h-7.3zM327.8 326.1h7.3v7.3h-7.3zM328.6 324.9h7.3v7.3h-7.3zM329.4 323.8h7.3v7.3h-7.3zM330.2 322.6h7.3v7.3h-7.3zM331.0 321.5h7.3v7.3h-7.3zM331.8 320.4h7.3v7.3h-7.3zM332.6 319.2h7.3v7.3h-7.3zM333.4 318.1h7.3v7.3h-7.3zM334.2 317.0h7.3v7.3h-7.3zM335.0 315.9h7.3v7.3h-7.3zM335.8 314.8h7.3v7.3h-7.3zM336.6 313.7h7.3v7.3h-7.3zM337.4 312.6h7.3v7.3h-7.3zM338.2 311.6h7.3v7.3h-7.3zM339.0 310.5h7.3v7.3h-7.3zM339.8 309.5h7.3v7.3h-7.3zM340.6 308.4h7.3v7.3h-7.3zM341.4 307.4h7.3v7.3h-7.3zM342.2 306.4h7.3v7.3h-7.3zM343.0 305.3h7.3v7.3h-7.3zM343.8 304.3h7.3v7.3h-7.3zM344.6 303.3h7.3v7.3h-7.3zM345.4 302.3h7.3v7.3h-7.3zM346.2 301.3h7.3v7.3h-7.3zM347.0 300.3h7.3v7.3h-7.3zM347.8 299.3h7.3v7.3h-7.3zM348.6 298.2h7.3v7.3h-7.3zM349.4 297.2h7.3v7.3h-7.3zM350.2 296.2h7.3v7.3h-7.3zM351.0 295.2h7.3v7.3h-7.3zM351.8 294.2h7.3v7.3h-7.3zM352.6 293.1h7.3v7.3h-7.3zM353.4 292.1h7.3v7.3h-7.3zM354.2 291.1h7.3v7.3h-7.3zM355.0 290.0h7.3v7.3h-7.3zM355.8 288.9h7.3v7.3h-7.3zM356.6 287.9h7.3v7.3h-7.3zM357.4 286.8h7.3v7.3h-7.3zM358.2 285.7h7.3v7.3h-7.3zM359.0 284.6h7.3v7.3h-7.3zM359.8 283.5h7.3v7.3h-7.3zM360.6 282.4h7.3v7.3h-7.3zM361.4 281.2h7.3v7.3h-7.3zM362.2 280.0h7.3v7.3h-7.3zM363.0 278.9h7.3v7.3h-7.3zM363.8 277.7h7.3v7.3h-7.3zM364.6 276.5h7.3v7.3h-7.3zM365.4 275.3h7.3v7.3h-7.3zM366.2 274.1h7.3v7.3h-7.3zM367.0 272.9h7.3v7.3h-7.3zM367.8 271.7h7.3v7.3h-7.3zM368.6 270.5h7.3v7.3h-7.3zM369.4 269.3h7.3v7.3h-7.3zM370.2 268.1h7.3v7.3h-7.3zM371.0 266.9h7.3v7.3h-7.3zM371.8 265.8h7.3v7.3h-7.3zM372.6 264.6h7.3v7.3h-7.3zM373.4 263.5h7.3v7.3h-7.3zM374.2 262.4h7.3v7.3h-7.3zM375.0 261.3h7.3v7.3h-7.3zM375.8 260.2h7.3v7.3h-7.3zM376.6 259.1h7.3v7.3h-7.3zM377.4 258.0h7.3v7.3h-7.3zM378.2 256.9h7.3v7.3h-7.3zM379.0 255.8h7.3v7.3h-7.3zM379.8 254.7h7.3v7.3h-7.3zM380.6 253.6h7.3v7.3h-7.3zM381.4 252.5h7.3v7.3h-7.3zM382.2 251.4h7.3v7.3h-7.3zM383.0 250.2h7.3v7.3h-7.3zM383.8 249.1h7.3v7.3h-7.3zM384.6 247.9h7.3v7.3h-7.3zM385.4 246.8h7.3v7.3h-7.3zM386.2 245.7h7.3v7.3h-7.3zM387.0 244.7h7.3v7.3h-7.3zM387.8 243.7h7.3v7.3h-7.3zM388.6 242.7h7.3v7.3h-7.3zM389.4 241.8h7.3v7.3h-7.3zM390.2 241.0h7.3v7.3h-7.3zM391.0 240.4h7.3v7.3h-7.3zM391.8 240.0h7.3v7.3h-7.3zM392.6 239.6h7.3v7.3h-7.3zM393.4 239.2h7.3v7.3h-7.3zM394.2 238.9h7.3v7.3h-7.3zM395.0 238.7h7.3v7.3h-7.3zM395.8 238.5h7.3v7.3h-7.3zM396.6 238.3h7.3v7.3h-7.3zM397.4 238.2h7.3v7.3h-7.3zM398.2 238.1h7.3v7.3h-7.3zM399.0 238.0h7.3v7.3h-7.3zM399.8 237.9h7.3v7.3h-7.3zM400.6 237.8h7.3v7.3h-7.3zM401.4 237.7h7.3v7.3h-7.3zM402.2 237.6h7.3v7.3h-7.3zM403.0 237.6h7.3v7.3h-7.3zM403.8 237.5h7.3v7.3h-7.3zM404.6 237.4h7.3v7.3h-7.3zM405.4 237.4h7.3v7.3h-7.3zM406.2 237.3h7.3v7.3h-7.3zM407.0 237.2h7.3v7.3h-7.3zM407.8 237.1h7.3v7.3h-7.3zM408.6 237.1h7.3v7.3h-7.3zM409.4 237.0h7.3v7.3h-7.3zM410.2 236.9h7.3v7.3h-7.3zM411.0 236.9h7.3v7.3h-7.3zM411.8 236.8h7.3v7.3h-7.3zM412.6 236.7h7.3v7.3h-7.3zM413.4 236.7h7.3v7.3h-7.3zM414.2 236.6h7.3v7.3h-7.3zM415.0 236.5h7.3v7.3h-7.3zM415.8 236.5h7.3v7.3h-7.3zM416.6 236.4h7.3v7.3h-7.3zM417.4 236.3h7.3v7.3h-7.3zM418.2 236.3h7.3v7.3h-7.3zM419.0 236.2h7.3v7.3h-7.3zM419.8 236.2h7.3v7.3h-7.3zM420.6 236.1h7.3v7.3h-7.3zM421.4 236.1h7.3v7.3h-7.3zM422.2 236.0h7.3v7.3h-7.3zM423.0 236.0h7.3v7.3h-7.3zM423.8 235.9h7.3v7.3h-7.3zM424.6 235.9h7.3v7.3h-7.3zM432.5 235.0h7.3v7.3h-7.3zM441.6 234.2h7.3v7.3h-7.3zM452.5 233.5h7.3v7.3h-7.3zM465.5 232.0h7.3v7.3h-7.3zM479.9 230.6h7.3v7.3h-7.3zM494.4 229.1h7.3v7.3h-7.3zM508.9 227.7h7.3v7.3h-7.3zM523.0 226.3h7.3v7.3h-7.3zM537.8 224.5h7.3v7.3h-7.3zM551.9 222.6h7.3v7.3h-7.3zM566.1 221.1h7.3v7.3h-7.3zM580.6 219.4h7.3v7.3h-7.3zM595.0 216.8h7.3v7.3h-7.3zM609.5 214.6h7.3v7.3h-7.3zM623.8 212.0h7.3v7.3h-7.3zM638.4 209.2h7.3v7.3h-7.3zM652.6 206.6h7.3v7.3h-7.3zM667.0 203.3h7.3v7.3h-7.3zM681.5 199.9h7.3v7.3h-7.3zM695.8 196.0h7.3v7.3h-7.3zM710.4 191.6h7.3v7.3h-7.3z" fill="#f00"/>
<g fill="none" stroke="#00f" stroke-width="1.2"><circle cx="464.4" cy="411.5" r="3.8"/><circle cx="465.1" cy="410.9" r="3.8"/><circle cx="465.7" cy="410.3" r="3.8"/><circle cx="466.4" cy="409.7" r="3.8"/><circle cx="467.0" cy="409.1" r="3.8"/><circle cx="467.7" cy="408.5" r="3.8"/><circle cx="468.4" cy="407.8" r="3.8"/><circle cx="469.0" cy="407.2" r="3.8"/><circle cx="469.7" cy="406.6" r="3.8"/><circle cx="470.4" cy="406.0" r="3.8"/><circle cx="471.0" cy="405.4" r="3.8"/><circle cx="471.7" cy="404.8" r="3.8"/><circle cx="472.4" cy="404.2" r="3.8"/><circle cx="473.0" cy="403.6" r="3.8"/><circle cx="473.7" cy="403.0" r="3.8"/><circle cx="474.3" cy="402.4" r="3.8"/><circle cx="475.0" cy="401.8" r="3.8"/><circle cx="475.7" cy="401.2" r="3.8"/><circle cx="476.4" cy="400.6" r="3.8"/><circle cx="477.0" cy="400.0" r="3.8"/><circle cx="477.7" cy="399.4" r="3.8"/><circle cx="478.4" cy="398.8" r="3.8"/><circle cx="479.0" cy="398.1" r="3.8"/><circle cx="479.7" cy="397.5" r="3.8"/><circle cx="480.3" cy="396.9" r="3.8"/><circle cx="481.0" cy="396.3" r="3.8"/><circle cx="481.6" cy="395.7" r="3.8"/><circle cx="482.3" cy="395.0" r="3.8"/><circle cx="482.9" cy="394.4" r="3.8"/><circle cx="483.6" cy="393.8" r="3.8"/><circle cx="484.2" cy="393.2" r="3.8"/><circle cx="484.8" cy="392.5" r="3.8"/><circle cx="485.5" cy="391.9" r="3.8"/><circle cx="486.1" cy="391.2" r="3.8"/><circle cx="486.7" cy="390.6" r="3.8"/><circle cx="487.3" cy="389.9" r="3.8"/><circle cx="488.0" cy="389.3" r="3.8"/><circle cx="488.6" cy="388.6" r="3.8"/><circle cx="489.2" cy="388.0" r="3.8"/><circle cx="489.8" cy="387.3" r="3.8"/><circle cx="490.4" cy="386.6" r="3.8"/><circle cx="491.0" cy="385.9" r="3.8"/><circle cx="491.6" cy="385.3" r="3.8"/><circle cx="492.2" cy="384.6" r="3.8"/><circle cx="492.7" cy="383.9" r="3.8"/><circle cx="493.3" cy="383.2" r="3.8"/><circle cx="493.9" cy="382.5" r="3.8"/><circle cx="494.5" cy="381.8" r="3.8"/><circle cx="495.0" cy="381.1" r="3.8"/><circle cx="495.6" cy="380.4" r="3.8"/><circle cx="496.2" cy="379.7" r="3.8"/><circle cx="496.7" cy="379.0" r="3.8"/><circle cx="497.3" cy="378.3" r="3.8"/><circle cx="497.8" cy="377.6" r="3.8"/><circle cx="498.4" cy="376.9" r="3.8"/><circle cx="498.9" cy="376.1" r="3.8"/><circle cx="499.5" cy="375.4" r="3.8"/><circle cx="500.0" cy="374.7" r="3.8"/><circle cx="500.5" cy="374.0" r="3.8"/><circle cx="501.1" cy="373.3" r="3.8"/><circle cx="501.6" cy="372.5" r="3.8"/><circle cx="502.1" cy="371.8" r="3.8"/><circle cx="502.6" cy="371.1" r="3.8"/><circle cx="503.2" cy="370.3" r="3.8"/><circle cx="503.7" cy="369.6" r="3.8"/><circle cx="504.2" cy="368.9" r="3.8"/><circle cx="504.7" cy="368.1" r="3.8"/><circle cx="505.2" cy="367.4" r="3.8"/><circle cx="505.7" cy="366.6" r="3.8"/><circle cx="506.2" cy="365.9" r="3.8"/><circle cx="506.7" cy="365.1" r="3.8"/><circle cx="507.2" cy="364.4" r="3.8"/><circle cx="507.7" cy="363.6" r="3.8"/><circle cx="508.1" cy="362.8" r="3.8"/><circle cx="508.6" cy="362.1" r="3.8"/><circle cx="509.1" cy="361.3" r="3.8"/><circle cx="509.6" cy="360.5" r="3.8"/><circle cx="510.0" cy="359.8" r="3.8"/><circle cx="510.5" cy="359.0" r="3.8"/><circle cx="510.9" cy="358.2" r="3.8"/><circle cx="511.4" cy="357.4" r="3.8"/><circle cx="511.9" cy="356.7" r="3.8"/><circle cx="512.3" cy="355.9" r="3.8"/><circle cx="512.7" cy="355.1" r="3.8"/><circle cx="513.2" cy="354.3" r="3.8"/><circle cx="513.6" cy="353.5" r="3.8"/><circle cx="514.1" cy="352.7" r="3.8"/><circle cx="514.5" cy="352.0" r="3.8"/><circle cx="514.9" cy="351.2" r="3.8"/><circle cx="515.3" cy="350.4" r="3.8"/><circle cx="515.7" cy="349.6" r="3.8"/><circle cx="516.2" cy="348.8" r="3.8"/><circle cx="516.6" cy="348.0" r="3.8"/><circle cx="517.0" cy="347.2" r="3.8"/><circle cx="517.4" cy="346.4" r="3.8"/><circle cx="517.8" cy="345.5" r="3.8"/><circle cx="518.2" cy="344.7" r="3.8"/><circle cx="518.6" cy="343.9" r="3.8"/><circle cx="518.9" cy="343.1" r="3.8"/><circle cx="519.3" cy="342.3" r="3.8"/><circle cx="519.7" cy="341.5" r="3.8"/><circle cx="520.1" cy="340.7" r="3.8"/><circle cx="520.5" cy="339.9" r="3.8"/><circle cx="520.9" cy="339.0" r="3.8"/><circle cx="521.2" cy="338.2" r="3.8"/><circle cx="521.6" cy="337.4" r="3.8"/><circle cx="522.0" cy="336.6" r="3.8"/><circle cx="522.4" cy="335.8" r="3.8"/><circle cx="522.8" cy="335.0" r="3.8"/><circle cx="523.1" cy="334.1" r="3.8"/><circle cx="523.5" cy="333.3" r="3.8"/><circle cx="523.9" cy="332.5" r="3.8"/><circle cx="524.2" cy="331.7" r="3.8"/><circle cx="524.6" cy="330.9" r="3.8"/><circle cx="525.0" cy="330.0" r="3.8"/><circle cx="525.3" cy="329.2" r="3.8"/><circle cx="525.7" cy="328.4" r="3.8"/><circle cx="526.1" cy="327.6" r="3.8"/><circle cx="526.4" cy="326.7" r="3.8"/><circle cx="526.8" cy="325.9" r="3.8"/><circle cx="527.1" cy="325.1" r="3.8"/><circle cx="527.5" cy="324.3" r="3.8"/><circle cx="527.8" cy="323.4" r="3.8"/><circle cx="528.2" cy="322.6" r="3.8"/><circle cx="528.5" cy="321.8" r="3.8"/><circle cx="528.8" cy="320.9" r="3.8"/><circle cx="529.2" cy="320.1" r="3.8"/><circle cx="529.5" cy="319.3" r="3.8"/><circle cx="529.9" cy="318.4" r="3.8"/><circle cx="530.2" cy="317.6" r="3.8"/><circle cx="530.5" cy="316.8" r="3.8"/><circle cx="530.9" cy="315.9" r="3.8"/><circle cx="531.2" cy="315.1" r="3.8"/><circle cx="531.5" cy="314.2" r="3.8"/><circle cx="531.8" cy="313.4" r="3.8"/><circle cx="532.2" cy="312.6" r="3.8"/><circle cx="532.5" cy="311.7" r="3.8"/><circle cx="532.8" cy="310.9" r="3.8"/><circle cx="533.1" cy="310.0" r="3.8"/><circle cx="533.4" cy="309.2" r="3.8"/><circle cx="533.7" cy="308.3" r="3.8"/><circle cx="534.0" cy="307.5" r="3.8"/><circle cx="534.3" cy="306.6" r="3.8"/><circle cx="534.6" cy="305.8" r="3.8"/><circle cx="534.9" cy="304.9" r="3.8"/><circle cx="535.2" cy="304.1" r="3.8"/><circle cx="535.4" cy="303.2" r="3.8"/><circle cx="535.7" cy="302.4" r="3.8"/><circle cx="536.0" cy="301.5" r="3.8"/><circle cx="536.3" cy="300.7" r="3.8"/><circle cx="536.5" cy="299.8" r="3.8"/><circle cx="536.8" cy="298.9" r="3.8"/><circle cx="537.1" cy="298.1" r="3.8"/><circle cx="537.3" cy="297.2" r="3.8"/><circle cx="537.6" cy="296.3" r="3.8"/><circle cx="537.8" cy="295.5" r="3.8"/><circle cx="538.1" cy="294.6" r="3.8"/><circle cx="538.3" cy="293.8" r="3.8"/><circle cx="538.6" cy="292.9" r="3.8"/><circle cx="538.8" cy="292.0" r="3.8"/><circle cx="539.1" cy="291.2" r="3.8"/><circle cx="539.3" cy="290.3" r="3.8"/><circle cx="539.6" cy="289.4" r="3.8"/><circle cx="539.8" cy="288.6" r="3.8"/><circle cx="540.1" cy="287.7" r="3.8"/><circle cx="540.3" cy="286.8" r="3.8"/><circle cx="540.6" cy="286.0" r="3.8"/><circle cx="540.8" cy="285.1" r="3.8"/><circle cx="541.0" cy="284.2" r="3.8"/><circle cx="541.2" cy="283.4" r="3.8"/><circle cx="541.4" cy="282.5" r="3.8"/><circle cx="541.7" cy="281.6" r="3.8"/><circle cx="541.9" cy="280.7" r="3.8"/><circle cx="542.1" cy="279.9" r="3.8"/><circle cx="542.3" cy="279.0" r="3.8"/><circle cx="542.5" cy="278.1" r="3.8"/><circle cx="542.7" cy="277.2" r="3.8"/><circle cx="542.9" cy="276.4" r="3.8"/><circle cx="543.1" cy="275.5" r="3.8"/><circle cx="543.4" cy="274.6" r="3.8"/><circle cx="543.6" cy="273.7" r="3.8"/><circle cx="543.8" cy="272.9" r="3.8"/><circle cx="544.0" cy="272.0" r="3.8"/><circle cx="544.2" cy="271.1" r="3.8"/><circle cx="544.5" cy="270.2" r="3.8"/><circle cx="544.7" cy="269.4" r="3.8"/><circle cx="544.9" cy="268.5" r="3.8"/><circle cx="545.2" cy="267.6" r="3.8"/><circle cx="545.4" cy="266.8" r="3.8"/><circle cx="545.7" cy="265.9" r="3.8"/><circle cx="545.9" cy="265.1" r="3.8"/><circle cx="546.2" cy="264.2" r="3.8"/><circle cx="546.5" cy="263.4" r="3.8"/><circle cx="546.8" cy="262.5" r="3.8"/><circle cx="547.1" cy="261.7" r="3.8"/><circle cx="547.5" cy="260.8" r="3.8"/><circle cx="547.8" cy="260.0" r="3.8"/><circle cx="548.1" cy="259.2" r="3.8"/><circle cx="548.5" cy="258.3" r="3.8"/><circle cx="548.8" cy="257.5" r="3.8"/><circle cx="549.2" cy="256.7" r="3.8"/><circle cx="549.5" cy="255.8" r="3.8"/><circle cx="549.8" cy="255.0" r="3.8"/><circle cx="550.2" cy="254.1" r="3.8"/><circle cx="550.5" cy="253.3" r="3.8"/><circle cx="550.8" cy="252.5" r="3.8"/><circle cx="551.1" cy="251.6" r="3.8"/><circle cx="551.4" cy="250.7" r="3.8"/><circle cx="551.6" cy="249.9" r="3.8"/><circle cx="551.9" cy="249.0" r="3.8"/><circle cx="552.2" cy="248.2" r="3.8"/><circle cx="552.5" cy="247.3" r="3.8"/><circle cx="552.8" cy="246.5" r="3.8"/><circle cx="553.1" cy="245.6" r="3.8"/><circle cx="553.4" cy="244.8" r="3.8"/><circle cx="553.6" cy="243.9" r="3.8"/><circle cx="554.0" cy="243.1" r="3.8"/><circle cx="554.3" cy="242.2" r="3.8"/><circle cx="554.6" cy="241.4" r="3.8"/><circle cx="554.9" cy="240.6" r="3.8"/><circle cx="555.3" cy="239.7" r="3.8"/><circle cx="555.6" cy="238.9" r="3.8"/><circle cx="555.9" cy="238.1" r="3.8"/><circle cx="556.3" cy="237.2" r="3.8"/><circle cx="556.7" cy="236.4" r="3.8"/><circle cx="557.0" cy="235.6" r="3.8"/><circle cx="557.4" cy="234.8" r="3.8"/><circle cx="557.8" cy="233.9" r="3.8"/><circle cx="558.1" cy="233.1" r="3.8"/><circle cx="558.5" cy="232.3" r="3.8"/><circle cx="559.0" cy="231.5" r="3.8"/><circle cx="559.4" cy="230.7" r="3.8"/><circle cx="559.8" cy="229.9" r="3.8"/><circle cx="560.3" cy="229.2" r="3.8"/><circle cx="560.7" cy="228.4" r="3.8"/><circle cx="561.2" cy="227.6" r="3.8"/><circle cx="561.7" cy="226.9" r="3.8"/><circle cx="562.2" cy="226.1" r="3.8"/><circle cx="562.7" cy="225.4" r="3.8"/><circle cx="563.2" cy="224.6" r="3.8"/><circle cx="563.8" cy="223.9" r="3.8"/><circle cx="564.4" cy="223.3" r="3.8"/><circle cx="565.1" cy="222.7" r="3.8"/><circle cx="565.8" cy="222.1" r="3.8"/><circle cx="566.5" cy="221.6" r="3.8"/><circle cx="567.2" cy="221.1" r="3.8"/><circle cx="568.0" cy="220.6" r="3.8"/><circle cx="568.8" cy="220.2" r="3.8"/><circle cx="569.6" cy="219.8" r="3.8"/><circle cx="570.4" cy="219.4" r="3.8"/><circle cx="571.3" cy="219.1" r="3.8"/></g>
<g fill="none" stroke="#00f" stroke-width="1.0"><circle cx="572.1" cy="218.8" r="3.6999999999999997"/><circle cx="573.6" cy="218.4" r="3.6999999999999997"/><circle cx="575.3" cy="218.0" r="3.6999999999999997"/><circle cx="577.3" cy="217.6" r="3.6999999999999997"/><circle cx="579.6" cy="217.1" r="3.6999999999999997"/><circle cx="582.2" cy="216.5" r="3.6999999999999997"/><circle cx="585.3" cy="215.9" r="3.6999999999999997"/></g>
<g fill="none" stroke="#00f" stroke-width="0.95"><circle cx="590.2" cy="215.3" r="3.55"/><circle cx="592.7" cy="214.9" r="3.55"/><circle cx="595.7" cy="214.2" r="3.55"/><circle cx="600.8" cy="212.7" r="3.55"/><circle cx="607.3" cy="211.6" r="3.55"/><circle cx="615.7" cy="210.3" r="3.55"/><circle cx="625.3" cy="208.1" r="3.55"/><circle cx="637.0" cy="206.0" r="3.55"/><circle cx="651.1" cy="202.9" r="3.55"/><circle cx="665.4" cy="199.5" r="3.55"/><circle cx="679.9" cy="195.1" r="3.55"/><circle cx="694.2" cy="190.8" r="3.55"/><circle cx="708.6" cy="185.6" r="3.55"/><circle cx="723.1" cy="179.7" r="3.55"/></g>
<path d="M589.7 214.8h1v1h-1zM592.2 214.4h1v1h-1zM595.2 213.7h1v1h-1zM600.3 212.2h1v1h-1zM606.8 211.1h1v1h-1zM615.2 209.8h1v1h-1zM624.8 207.6h1v1h-1zM636.5 205.5h1v1h-1zM650.6 202.4h1v1h-1zM664.9 199.0h1v1h-1zM679.4 194.6h1v1h-1zM693.7 190.3h1v1h-1zM708.1 185.1h1v1h-1zM722.6 179.2h1v1h-1z" fill="#00f" fill-opacity="0.55"/>
<path d="M82.40 485.80h3.7M802.60 485.80h-3.7M82.40 458.42h3.7M802.60 458.42h-3.7M82.40 439.00h3.7M802.60 439.00h-3.7M82.40 423.93h3.7M802.60 423.93h-3.7M82.40 411.62h3.7M802.60 411.62h-3.7M82.40 401.22h3.7M802.60 401.22h-3.7M82.40 392.20h3.7M802.60 392.20h-3.7M82.40 384.25h3.7M802.60 384.25h-3.7M82.40 377.13h7.5M802.60 377.13h-7.5M82.40 330.33h3.7M802.60 330.33h-3.7M82.40 302.96h3.7M802.60 302.96h-3.7M82.40 283.53h3.7M802.60 283.53h-3.7M82.40 268.47h3.7M802.60 268.47h-3.7M82.40 256.16h3.7M802.60 256.16h-3.7M82.40 245.75h3.7M802.60 245.75h-3.7M82.40 236.73h3.7M802.60 236.73h-3.7M82.40 228.78h3.7M802.60 228.78h-3.7M82.40 221.67h7.5M802.60 221.67h-7.5M82.40 174.87h3.7M802.60 174.87h-3.7M82.40 147.49h3.7M802.60 147.49h-3.7M82.40 128.07h3.7M802.60 128.07h-3.7M82.40 113.00h3.7M802.60 113.00h-3.7M82.40 100.69h3.7M802.60 100.69h-3.7M82.40 90.28h3.7M802.60 90.28h-3.7M82.40 81.27h3.7M802.60 81.27h-3.7M82.40 73.31h3.7M802.60 73.31h-3.7M82.40 66.20h7.5M802.60 66.20h-7.5M226.44 532.60v-7.5M226.44 19.40v7.5M370.48 532.60v-7.5M370.48 19.40v7.5M514.52 532.60v-7.5M514.52 19.40v7.5M658.56 532.60v-7.5M658.56 19.40v7.5" stroke="#000" stroke-width="1.2" fill="none"/><rect x="82.4" y="19.4" width="720.20" height="513.20" fill="none" stroke="#000" stroke-width="1.25"/><g font-family="Liberation Sans, sans-serif" font-size="16" fill="#000"><text x="50.36" y="538.30">0.</text><path transform="translate(63.70 538.30) scale(0.0078125 -0.0078125)" d="M696 0H515V1237L197 1010V1180L530 1409H696Z"/><path transform="translate(63.70 382.83) scale(0.0078125 -0.0078125)" d="M696 0H515V1237L197 1010V1180L530 1409H696Z"/><path transform="translate(54.80 227.37) scale(0.0078125 -0.0078125)" d="M696 0H515V1237L197 1010V1180L530 1409H696Z"/><text x="63.70" y="227.37">0</text><path transform="translate(45.90 71.90) scale(0.0078125 -0.0078125)" d="M696 0H515V1237L197 1010V1180L530 1409H696Z"/><text x="54.80" y="71.90">00</text><text x="80.35" y="554.70">0</text><text x="202.14" y="554.70">200000</text><text x="346.18" y="554.70">400000</text><text x="490.22" y="554.70">600000</text><text x="634.26" y="554.70">800000</text><path transform="translate(782.53 554.70) scale(0.0078125 -0.0078125)" d="M696 0H515V1237L197 1010V1180L530 1409H696Z"/><text x="791.43" y="554.70">e+06</text><text x="442.5" y="578.2" text-anchor="middle">time, yrs</text><text transform="translate(21.6 275) rotate(-90)" text-anchor="middle">Planet Mass / M_Earth</text></g>
</svg>
</body></html>
